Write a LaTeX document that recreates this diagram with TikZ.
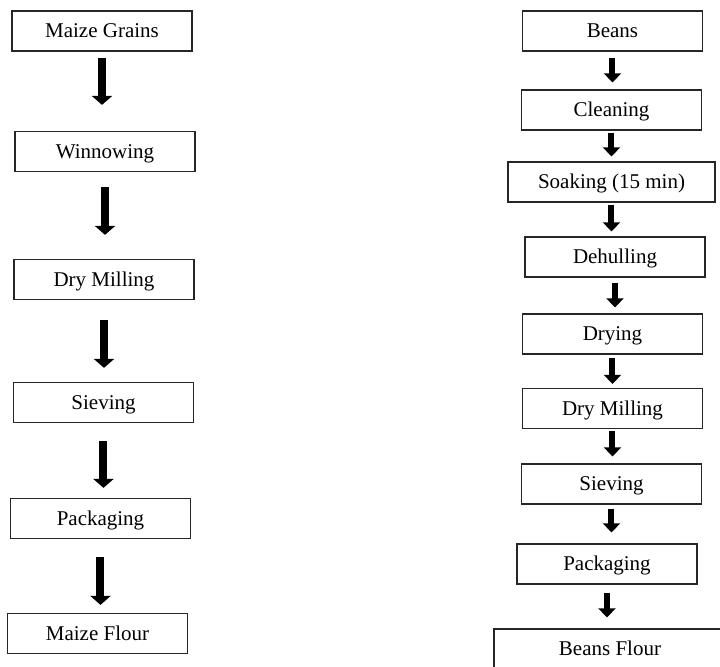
\documentclass[tikz,border=0pt]{standalone}
\usepackage{fontspec}
\setmainfont{Liberation Serif}
\usetikzlibrary{arrows.meta,positioning,calc}

\begin{document}
\begin{tikzpicture}[x=0.5pt,y=-0.5pt,
    stepbox/.style={rectangle,draw=black!85,line width=0.6pt,minimum width=90pt,minimum height=20pt,
        inner sep=0pt,text height=0.66em,text depth=0pt,font=\fontsize{10.5}{12}\selectfont},
    bigflow/.style={line width=4pt,-{Triangle[length=4.5pt,width=10pt]}},
    smallflow/.style={line width=3pt,-{Triangle[length=4.5pt,width=8.5pt]}}]
    \useasboundingbox (0,0) rectangle (720,667);

    % maize line
    \node[stepbox] (grains) at (102,31) {Maize Grains};
    \node[stepbox] (winnow) at (105,151.5) {Winnowing};
    \node[stepbox] (mmill) at (104,279.5) {Dry Milling};
    \node[stepbox] (msieve) at (103.5,402.5) {Sieving};
    \node[stepbox] (mpack) at (100.5,518.5) {Packaging};
    \node[stepbox] (mflour) at (97.5,633.5) {Maize Flour};

    \draw[bigflow,shorten <=3pt,shorten >=13pt] (grains.south) -- (grains.south |- winnow.north);
    \draw[bigflow,shorten <=7.5pt,shorten >=12pt] (winnow.south) -- (winnow.south |- mmill.north);
    \draw[bigflow,shorten <=10pt,shorten >=7pt] (mmill.south) -- (mmill.south |- msieve.north);
    \draw[bigflow,shorten <=9pt,shorten >=5pt] (msieve.south) -- (msieve.south |- mpack.north);
    \draw[bigflow,shorten <=9pt,shorten >=4pt] (mpack.south) -- (mpack.south |- mflour.north);

    % beans line
    \node[stepbox] (beans) at (612.5,31) {Beans};
    \node[stepbox] (clean) at (611.5,110) {Cleaning};
    \node[stepbox,minimum width=103.5pt] (soak) at (611.5,182) {Soaking (15 min)};
    \node[stepbox] (dehull) at (615,257) {Dehulling};
    \node[stepbox] (dry) at (612.5,334) {Drying};
    \node[stepbox] (bmill) at (612.5,408.5) {Dry Milling};
    \node[stepbox] (bsieve) at (611.5,484) {Sieving};
    \node[stepbox] (bpack) at (607,564) {Packaging};
    \node[stepbox,minimum width=116pt] (bflour) at (610,649) {Beans Flour};

    \draw[smallflow,shorten <=3pt,shorten >=3.5pt] (beans.south) -- (beans.south |- clean.north);
    \draw[smallflow,shorten <=1pt,shorten >=2.5pt] (clean.south) -- (clean.south |- soak.north);
    \draw[smallflow,shorten <=1pt,shorten >=2.5pt] (soak.south) -- (soak.south |- dehull.north);
    \draw[smallflow,shorten <=2.5pt,shorten >=3pt] (dehull.south) -- (dehull.south |- dry.north);
    \draw[smallflow,shorten <=1.5pt,shorten >=2pt] (dry.south) -- (dry.south |- bmill.north);
    \draw[smallflow,shorten <=1pt,shorten >=3.5pt] (bmill.south) -- (bmill.south |- bsieve.north);
    \draw[smallflow,shorten <=2pt,shorten >=5.5pt] (bsieve.south) -- (bsieve.south |- bpack.north);
    \draw[smallflow,shorten <=4pt,shorten >=5.5pt] (bpack.south) -- (bpack.south |- bflour.north);
\end{tikzpicture}
\end{document}
